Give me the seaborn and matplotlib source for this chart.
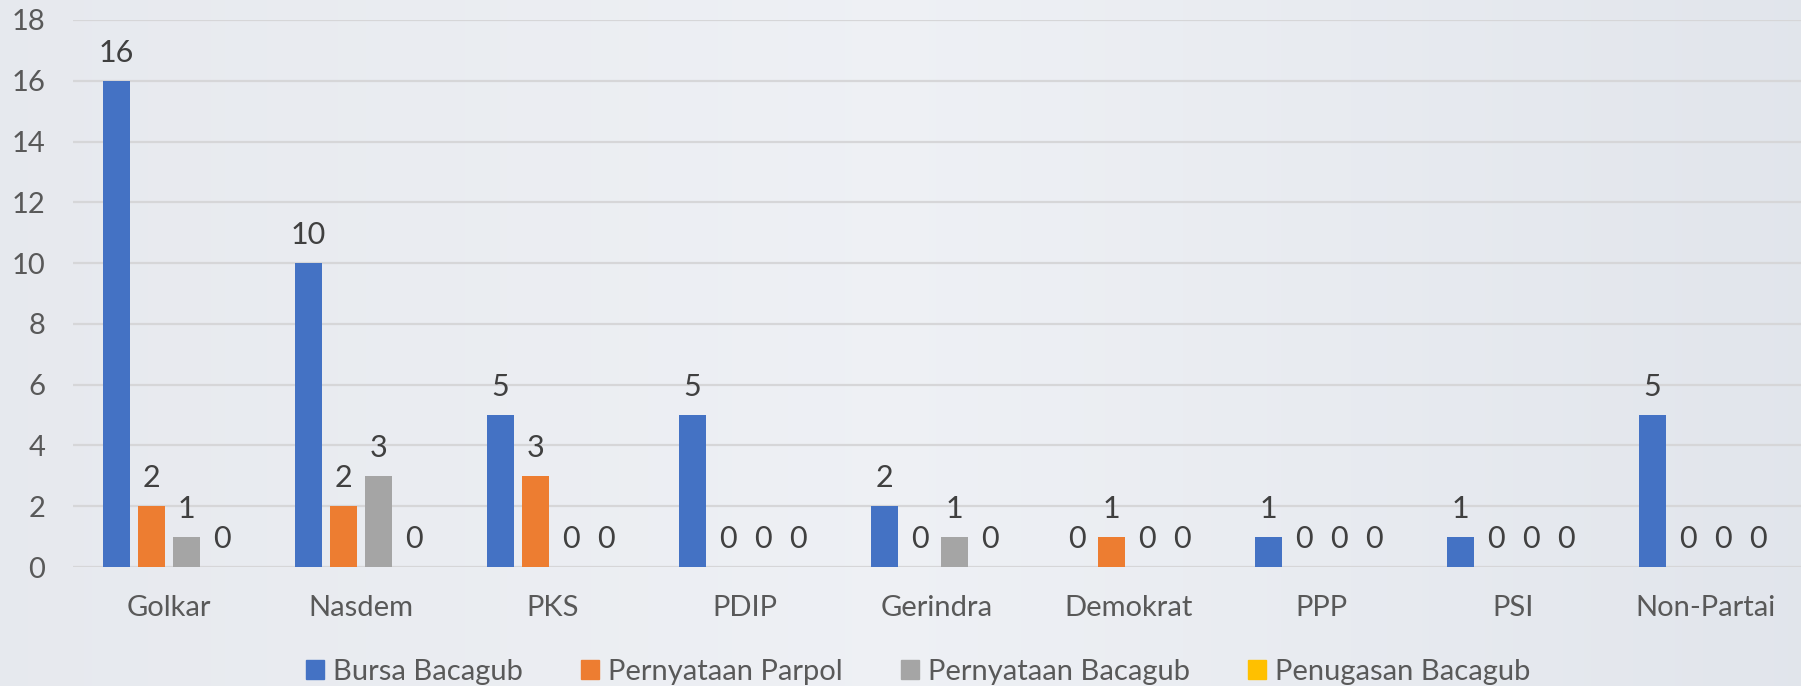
import numpy as np
import pandas as pd
import seaborn as sns
import matplotlib.pyplot as plt

partai = ['Golkar', 'Nasdem', 'PKS', 'PDIP', 'Gerindra', 'Demokrat', 'PPP', 'PSI', 'Non-Partai']
bursa_bacagub = [16, 10, 5, 5, 2, 0, 1, 1, 5]
pernyataan_parpol = [2, 2, 3, 0, 0, 1, 0, 0, 0]
pernyataan_bacagub = [1, 3, 0, 0, 1, 0, 0, 0, 0]
penugasan_bacagub = [0, 0, 0, 0, 0, 0, 0, 0, 0]

kategori = ['Bursa Bacagub', 'Pernyataan Parpol', 'Pernyataan Bacagub', 'Penugasan Bacagub']
warna = ['#4472C4', '#ED7D31', '#A5A5A5', '#FFC000']

df = pd.DataFrame({
    'partai': partai * 4,
    'nilai': bursa_bacagub + pernyataan_parpol + pernyataan_bacagub + penugasan_bacagub,
    'kategori': np.repeat(kategori, len(partai)),
})

sns.set_theme(style='white')
plt.rcParams['font.family'] = ['Lato', 'DejaVu Sans']
teks = '#595959'

fig = plt.figure(figsize=(18.01, 6.86), dpi=100)

# light gradient background
bg = fig.add_axes([0, 0, 1, 1], zorder=0)
grad = np.linspace(0, 1, 256)
kiri = np.array([0.905, 0.915, 0.935])
tengah = np.array([0.935, 0.943, 0.960])
kanan = np.array([0.885, 0.900, 0.925])
w = np.where(grad < 0.5, grad * 2, (grad - 0.5) * 2)[:, None]
rgb = np.where(grad[:, None] < 0.5, kiri + (tengah - kiri) * w, tengah + (kanan - tengah) * w)
bg.imshow(rgb[None, :, :], aspect='auto', extent=[0, 1, 0, 1])
bg.set_axis_off()

ax = fig.add_axes([73 / 1801, 119 / 686, 1728 / 1801, 547 / 686], zorder=1)
ax.patch.set_alpha(0)

sns.barplot(data=df, x='partai', y='nilai', hue='kategori', palette=warna,
            width=0.73, gap=0.23, saturation=1, ax=ax, errorbar=None,
            linewidth=0, zorder=3)

for c in ax.containers:
    ax.bar_label(c, fmt='%d', padding=10, fontsize=22, color='#404040')

ax.set_ylim(0, 18)
ax.set_yticks(range(0, 19, 2))
ax.set_xlim(-0.5, len(partai) - 0.5)
ax.yaxis.grid(True, color='#d6d6d8', linewidth=1.6, zorder=0)
ax.set_axisbelow(True)
for s in ax.spines.values():
    s.set_visible(False)
ax.tick_params(axis='both', length=0, labelsize=21, colors=teks)
ax.tick_params(axis='y', pad=20)
ax.tick_params(axis='x', pad=20)
ax.set_xlabel('')
ax.set_ylabel('')

ax.legend_.remove()
handles = [plt.Rectangle((0, 0), 1, 1, color=c) for c in warna]
leg = fig.legend(handles, kategori, loc='center', bbox_to_anchor=(918 / 1801, 1 - 672 / 686),
                 ncol=4, frameon=False, fontsize=21, handlelength=0.62, handleheight=0.62,
                 handletextpad=0.3, columnspacing=2.0)
for t in leg.get_texts():
    t.set_color(teks)

fig.savefig('out.png', dpi=100)
